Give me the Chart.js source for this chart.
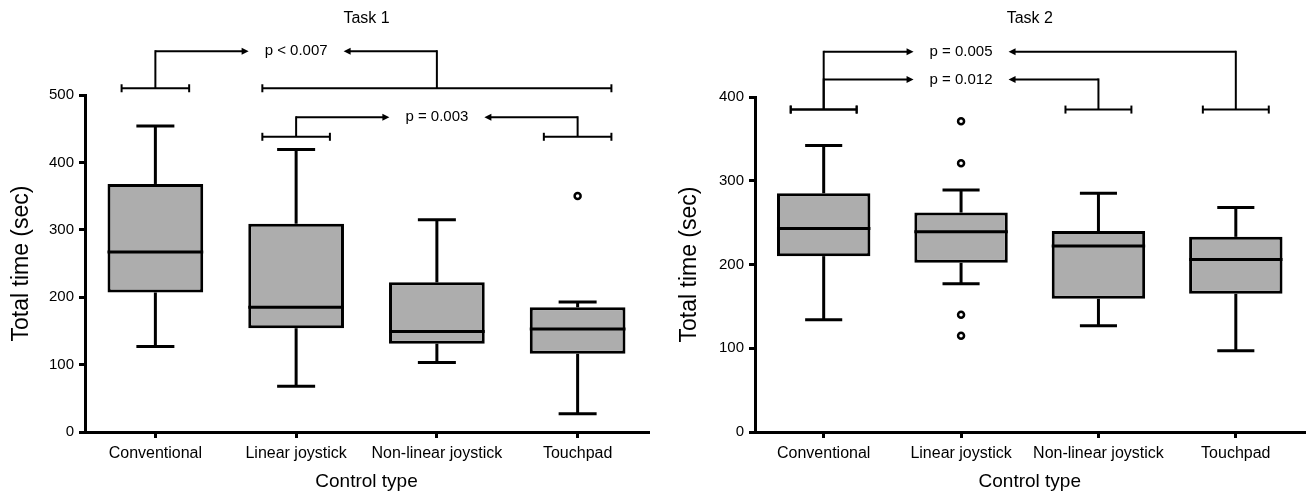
<!DOCTYPE html>
<html>
<head>
<meta charset="utf-8">
<script src="https://cdn.jsdelivr.net/npm/chart.js@4/dist/chart.umd.min.js"></script>
<style>
  body { margin: 0; background: #fff; }
  .panel { position: absolute; top: 0; }
</style>
</head>
<body>
<div class="panel" style="left:0"><canvas id="task1" width="655" height="493"></canvas></div>
<div class="panel" style="left:655px"><canvas id="task2" width="656" height="493"></canvas></div>
<script>
const FONT = '"Liberation Sans", Arial, sans-serif';

// categories (x axis)
const categories = ['Conventional', 'Linear joystick', 'Non-linear joystick', 'Touchpad'];

// Task 1 box stats (sec)
const t1Min    = [127, 68, 103, 27];
const t1Q1     = [207, 154, 131, 116];
const t1Median = [267, 185, 149, 153];
const t1Q3     = [368, 309, 222, 185];
const t1Max    = [454, 419, 315, 193];
const t1Outliers = [[], [], [], [350]];
const t1Ticks = [0, 100, 200, 300, 400, 500];

// Task 2 box stats (sec)
const t2Min    = [134, 177, 127, 97];
const t2Q1     = [210, 202, 159, 165];
const t2Median = [243, 239, 222, 206];
const t2Q3     = [285, 262, 240, 233];
const t2Max    = [342, 289, 285, 268];
const t2Outliers = [[], [371, 321, 140, 115], [], []];
const t2Ticks = [0, 100, 200, 300, 400];

// significance brackets: groups compared, bracket levels (sec), label
const t1Brackets = [
  { left: [0], right: [1, 2, 3], capAt: 510, joinAt: 565, label: 'p < 0.007', labelAt: 1 },
  { left: [1], right: [3], capAt: 438, joinAt: 467, label: 'p = 0.003', labelAt: 2 }
];
const t2Brackets = [
  { left: [0], right: [3], capAt: 385, joinAt: 454, label: 'p = 0.005', labelAt: 1 },
  { left: [0], right: [2], capAt: 385, joinAt: 421, label: 'p = 0.012', labelAt: 1 }
];

// whiskers, medians, brackets and panel title
function boxExtras(title, st, brackets) {
  return {
    id: 'boxExtras',
    afterDatasetsDraw(chart) {
      const { ctx, chartArea, scales: { x, y } } = chart;
      const step = x.getPixelForValue(1) - x.getPixelForValue(0);
      const bars = chart.getDatasetMeta(0).data;
      const line = (x1, y1, x2, y2) => {
        ctx.beginPath(); ctx.moveTo(x1, y1); ctx.lineTo(x2, y2); ctx.stroke();
      };
      ctx.save();
      ctx.strokeStyle = '#000';
      ctx.fillStyle = '#000';

      // === whiskers + median ===
      ctx.lineWidth = 3;
      categories.forEach((c, i) => {
        const px = x.getPixelForValue(i);
        const cap = step * 0.135;
        const yMax = y.getPixelForValue(st.max[i]);
        const yMin = y.getPixelForValue(st.min[i]);
        line(px, y.getPixelForValue(st.q3[i]), px, yMax);
        line(px - cap, yMax, px + cap, yMax);
        line(px, y.getPixelForValue(st.q1[i]), px, yMin);
        line(px - cap, yMin, px + cap, yMin);
        const half = bars[i].width / 2;
        const yMed = y.getPixelForValue(st.median[i]);
        line(px - half, yMed, px + half, yMed);
      });

      // === brackets ===
      ctx.lineWidth = 2;
      ctx.font = '15px ' + FONT;
      ctx.textAlign = 'center';
      ctx.textBaseline = 'middle';
      brackets.forEach(b => {
        const yCap = y.getPixelForValue(b.capAt);
        const yTop = y.getPixelForValue(b.joinAt);
        const stems = [b.left, b.right].map(g => {
          const lo = Math.min(...g), hi = Math.max(...g);
          const xa = x.getPixelForValue(lo - 0.24), xz = x.getPixelForValue(hi + 0.24);
          line(xa, yCap, xz, yCap);
          line(xa, yCap - 4, xa, yCap + 4);
          line(xz, yCap - 4, xz, yCap + 4);
          const s = x.getPixelForValue((lo + hi) / 2);
          line(s, yCap, s, yTop - 1);
          return s;
        });
        const tx = x.getPixelForValue(b.labelAt);
        const tw = ctx.measureText(b.label).width;
        ctx.fillText(b.label, tx, yTop);
        const tipL = tx - tw / 2 - 16, tipR = tx + tw / 2 + 16;
        line(stems[0], yTop, tipL - 4, yTop);
        line(stems[1], yTop, tipR + 4, yTop);
        ctx.beginPath();
        ctx.moveTo(tipL, yTop); ctx.lineTo(tipL - 7, yTop - 3.5); ctx.lineTo(tipL - 7, yTop + 3.5);
        ctx.closePath(); ctx.fill();
        ctx.beginPath();
        ctx.moveTo(tipR, yTop); ctx.lineTo(tipR + 7, yTop - 3.5); ctx.lineTo(tipR + 7, yTop + 3.5);
        ctx.closePath(); ctx.fill();
      });

      // === title ===
      ctx.font = '16px ' + FONT;
      ctx.fillText(title, (chartArea.left + chartArea.right) / 2, 19);
      ctx.restore();
    }
  };
}

function makeChart(id, title, st, outliers, ticks, brackets, axisW, padTop, padRight, yTitlePad) {
  const outlierPts = [];
  outliers.forEach((list, i) => list.forEach(v => outlierPts.push({ x: categories[i], y: v })));

  new Chart(document.getElementById(id), {
    type: 'bar',
    data: {
      labels: categories,
      datasets: [{
        data: st.q1.map((v, i) => [v, st.q3[i]]),
        backgroundColor: '#adadad',
        borderColor: '#000',
        borderWidth: 3,
        borderSkipped: false,
        barPercentage: 0.68,
        categoryPercentage: 1
      }, {
        type: 'line',
        data: outlierPts,
        showLine: false,
        pointRadius: 3,
        pointBorderWidth: 2.5,
        pointBackgroundColor: '#fff',
        pointBorderColor: '#000',
        clip: false
      }]
    },
    options: {
      responsive: false,
      animation: false,
      devicePixelRatio: 1,
      layout: { padding: { top: padTop, right: padRight, bottom: 0, left: 0 } },
      plugins: { legend: { display: false }, tooltip: { enabled: false } },
      scales: {
        x: {
          offset: true,
          grid: { offset: false, drawOnChartArea: false, drawTicks: true, tickLength: 6, color: '#000', lineWidth: 3 },
          border: { display: true, color: '#000', width: 3 },
          ticks: { color: '#000', font: { size: 16, family: FONT }, padding: 6, maxRotation: 0 },
          title: { display: true, text: 'Control type', color: '#000', font: { size: 19, family: FONT }, padding: { top: 1, bottom: 0 } }
        },
        y: {
          min: ticks[0],
          max: ticks[ticks.length - 1],
          afterBuildTicks: s => { s.ticks = ticks.map(v => ({ value: v })); },
          afterFit: s => { s.width = axisW; },
          grid: { drawOnChartArea: false, drawTicks: true, tickLength: 6, color: '#000', lineWidth: 3 },
          border: { display: true, color: '#000', width: 3 },
          ticks: { color: '#000', font: { size: 15, family: FONT }, padding: 5 },
          title: { display: true, text: 'Total time (sec)', color: '#000', font: { size: 23, family: FONT }, padding: { top: yTitlePad, bottom: 0 } }
        }
      }
    },
    plugins: [boxExtras(title, st, brackets)]
  });
}

makeChart('task1', 'Task 1',
  { min: t1Min, q1: t1Q1, median: t1Median, q3: t1Q3, max: t1Max },
  t1Outliers, t1Ticks, t1Brackets, 85, 95, 7, 8);

makeChart('task2', 'Task 2',
  { min: t2Min, q1: t2Q1, median: t2Median, q3: t2Q3, max: t2Max },
  t2Outliers, t2Ticks, t2Brackets, 100, 97, 0, 21);
</script>
</body>
</html>
